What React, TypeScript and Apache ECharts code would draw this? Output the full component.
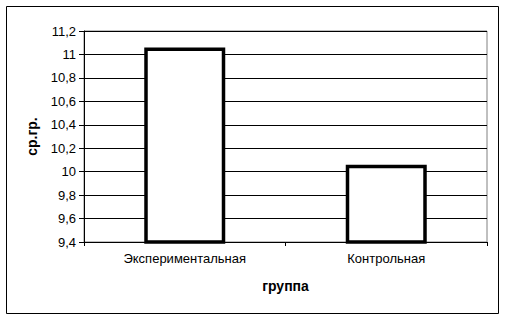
import React, { useEffect, useRef } from "react";
import * as echarts from "echarts";

const categories = ["Экспериментальная", "Контрольная"];
const values = [11.06, 10.06];
const yMin = 9.4;
const yMax = 11.2;
const yStep = 0.2;
const xAxisTitle = "группа";
const yAxisTitle = "ср.гр.";

export default function App() {
  const ref = useRef<HTMLDivElement>(null);
  useEffect(() => {
    document.body.style.margin = "0";
    const chart = echarts.init(ref.current!, null, { renderer: "svg" });
    const font = "'Liberation Sans', Arial, sans-serif";
    chart.setOption({
      animation: false,
      backgroundColor: "#ffffff",
      textStyle: { fontFamily: font },
      grid: {
        left: 84,
        top: 31,
        right: 20,
        bottom: 79,
        show: true,
        borderColor: "#808080",
        borderWidth: 1,
        backgroundColor: "transparent",
      },
      graphic: [
        {
          type: "rect",
          shape: { x: 6.5, y: 6.5, width: 492, height: 307 },
          style: { fill: "none", stroke: "#000", lineWidth: 1 },
          silent: true,
        },
      ],
      xAxis: {
        type: "category",
        data: categories,
        name: xAxisTitle,
        nameLocation: "middle",
        nameGap: 37,
        nameTextStyle: { fontFamily: font, fontSize: 14, fontWeight: "bold", color: "#000" },
        axisLine: { lineStyle: { color: "#000", width: 1 } },
        axisTick: { show: true, length: 4, lineStyle: { color: "#000" } },
        axisLabel: { fontFamily: font, fontSize: 13, color: "#000", margin: 10 },
        splitLine: { show: false },
      },
      yAxis: {
        type: "value",
        min: yMin,
        max: yMax,
        interval: yStep,
        name: yAxisTitle,
        nameLocation: "middle",
        nameGap: 45,
        nameTextStyle: { fontFamily: font, fontSize: 14, fontWeight: "bold", color: "#000" },
        axisLine: { show: true, lineStyle: { color: "#000", width: 1 } },
        axisTick: { show: true, length: 5, lineStyle: { color: "#000" } },
        axisLabel: {
          fontFamily: font,
          fontSize: 13,
          color: "#000",
          margin: 8,
          formatter: (v: number) => {
            const r = Math.round(v * 10) / 10;
            return String(r).replace(".", ",");
          },
        },
        splitLine: { show: true, lineStyle: { color: "#000", width: 1 } },
      },
      series: [
        {
          type: "bar",
          data: values,
          barWidth: 81,
          itemStyle: { color: "#ffffff", borderColor: "#000", borderWidth: 3.5 },
        },
      ],
    });
    return () => chart.dispose();
  }, []);
  return <div ref={ref} style={{ width: 507, height: 321 }} />;
}
